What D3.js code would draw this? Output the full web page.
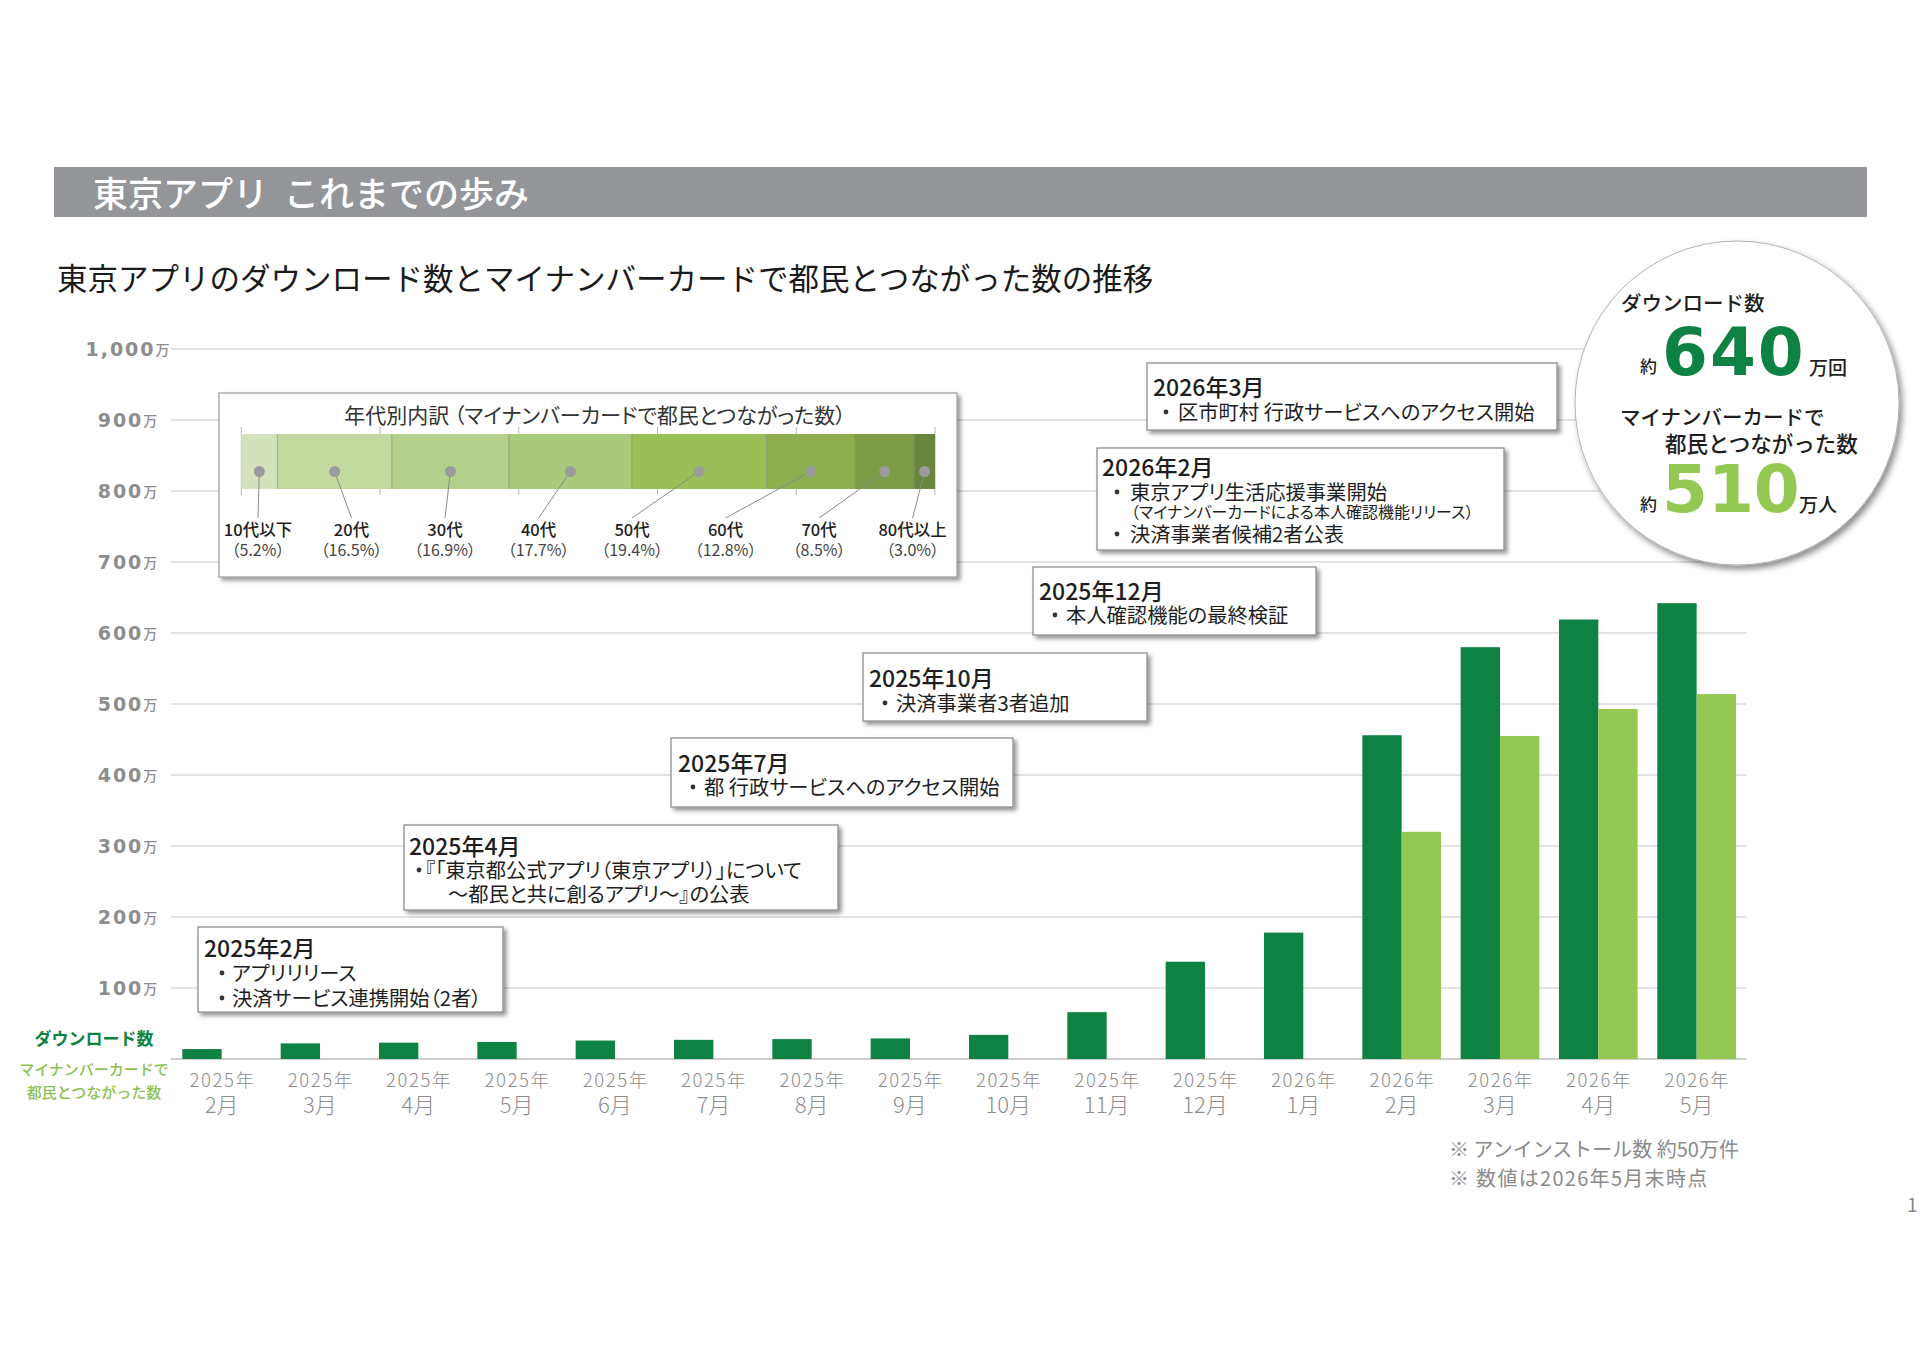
<!DOCTYPE html>
<html><head><meta charset="utf-8">
<script src="https://cdn.jsdelivr.net/npm/d3@7/dist/d3.min.js"></script>
<style>
body{margin:0;background:#fff}
svg{display:block}
text{font-family:"Noto Sans CJK JP","Noto Sans",sans-serif}
.palt{font-feature-settings:"palt" 1}
</style>
</head><body>
<svg id="chart" width="1920" height="1356"></svg>
<script>
// ---------- DATA ----------
const catYears  = ["2025年","2025年","2025年","2025年","2025年","2025年","2025年","2025年","2025年","2025年","2025年","2026年","2026年","2026年","2026年","2026年"];
const catMonths = ["2月","3月","4月","5月","6月","7月","8月","9月","10月","11月","12月","1月","2月","3月","4月","5月"];
const downloads = [14, 22, 23, 24, 26, 27, 28, 29, 34, 66, 137, 178, 456, 580, 619, 642];           // 万
const mynaLinks = [null, null, null, null, null, null, null, null, null, null, null, null, 320, 455, 493, 514]; // 万
const yTickValues = [100, 200, 300, 400, 500, 600, 700, 800, 900, 1000];
const yTickLabels = ["100", "200", "300", "400", "500", "600", "700", "800", "900", "1,000"];
const ageGroups = ["10代以下", "20代", "30代", "40代", "50代", "60代", "70代", "80代以上"];
const agePct    = [5.2, 16.5, 16.9, 17.7, 19.4, 12.8, 8.5, 3.0];
const eventTitles = ["2025年2月", "2025年4月", "2025年7月", "2025年10月", "2025年12月", "2026年2月", "2026年3月"];
const eventLines = [
  [{b:true, t:"アプリリリース"}, {b:true, t:"決済サービス連携開始（2者）"}],
  [{b:true, t:"『「東京都公式アプリ（東京アプリ）」について"}, {b:false, t:"～都民と共に創るアプリ～』の公表"}],
  [{b:true, t:"都 行政サービスへのアクセス開始"}],
  [{b:true, t:"決済事業者3者追加"}],
  [{b:true, t:"本人確認機能の最終検証"}],
  [{b:true, t:"東京アプリ生活応援事業開始"}, {b:false, small:true, t:"（マイナンバーカードによる本人確認機能リリース）"}, {b:true, t:"決済事業者候補2者公表"}],
  [{b:true, t:"区市町村 行政サービスへのアクセス開始"}]
];
const totalDownloads = "640";
const totalLinks = "510";
const footnotes = ["※ アンインストール数 約50万件", "※ 数値は2026年5月末時点"];

// ---------- STYLE / LAYOUT ----------
const C_DARK = "#0e8242", C_LIGHT = "#93c852", C_GRID = "#d9d9d9", C_AXIS = "#8d8d8d";
const ageColors = ["#d3e2ba", "#c3d9a0", "#b5d08a", "#a9c97b", "#9bbf57", "#8eaf4f", "#7e9c47", "#6a863a"];
const categories = catYears.map((y, i) => y + catMonths[i]);

const svg = d3.select("#chart");
const defs = svg.append("defs");
const sh = defs.append("filter").attr("id", "shadow").attr("x", "-10%").attr("y", "-10%").attr("width", "130%").attr("height", "140%");
sh.append("feDropShadow").attr("dx", 3).attr("dy", 3).attr("stdDeviation", 2.2).attr("flood-color", "#000").attr("flood-opacity", 0.42);
const sh2 = defs.append("filter").attr("id", "cshadow").attr("x", "-10%").attr("y", "-10%").attr("width", "130%").attr("height", "130%");
sh2.append("feDropShadow").attr("dx", 3).attr("dy", 4).attr("stdDeviation", 3).attr("flood-color", "#000").attr("flood-opacity", 0.45);

// Header
svg.append("rect").attr("x", 54).attr("y", 167).attr("width", 1813).attr("height", 50).attr("fill", "#949599");
const ht = svg.append("text").attr("y", 191).attr("dominant-baseline", "central")
  .attr("fill", "#fff").attr("font-size", 35).attr("font-weight", 500);
ht.append("tspan").attr("x", 93).text("東京アプリ");
ht.append("tspan").attr("x", 284).text("これまでの歩み");
svg.append("text").attr("x", 57).attr("y", 277).attr("dominant-baseline", "central")
  .attr("fill", "#1a1a1a").attr("font-size", 30.5).attr("font-weight", 400)
  .text("東京アプリのダウンロード数とマイナンバーカードで都民とつながった数の推移");

// Scales
const x = d3.scaleBand().domain(categories).range([172.5, 1745.8]).paddingInner(0.2).paddingOuter(0.1);
const y = d3.scaleLinear().domain([0, 1000]).range([1059, 349]);
const bw = x.bandwidth();

// Gridlines
svg.append("g").selectAll("line").data(yTickValues).join("line")
  .attr("x1", 171).attr("x2", 1746).attr("y1", d => y(d)).attr("y2", d => y(d))
  .attr("stroke", C_GRID).attr("stroke-width", 1.5);
svg.append("line").attr("x1", 171).attr("x2", 1746).attr("y1", y(0)).attr("y2", y(0))
  .attr("stroke", "#cfcfcf").attr("stroke-width", 2);

// Y labels
const yl = svg.append("g").selectAll("text").data(yTickValues).join("text")
  .attr("x", 127.5).attr("y", d => y(d)).attr("text-anchor", "middle").attr("dominant-baseline", "central")
  .attr("fill", C_AXIS);
yl.append("tspan").text((d, i) => yTickLabels[i])
  .attr("style", "font-family:'DejaVu Sans';font-weight:bold;font-size:19px;letter-spacing:2px");
yl.append("tspan").text("万").attr("style", "font-size:14px;font-weight:500");

// Bars
svg.append("g").selectAll("rect").data(categories).join("rect")
  .attr("x", d => x(d)).attr("width", bw / 2)
  .attr("y", (d, i) => y(downloads[i])).attr("height", (d, i) => y(0) - y(downloads[i]))
  .attr("fill", C_DARK);
svg.append("g").selectAll("rect").data(categories.filter((d, i) => mynaLinks[i] != null)).join("rect")
  .attr("x", d => x(d) + bw / 2).attr("width", bw / 2)
  .attr("y", d => y(mynaLinks[categories.indexOf(d)]))
  .attr("height", d => y(0) - y(mynaLinks[categories.indexOf(d)]))
  .attr("fill", C_LIGHT);

// X labels
const xl = svg.append("g").selectAll("g").data(categories).join("g");
xl.append("text").attr("x", d => x(d) + bw / 2 + 0.8).attr("y", 1079).attr("text-anchor", "middle")
  .attr("dominant-baseline", "central").attr("fill", C_AXIS).attr("font-size", 18.5).attr("font-weight", 300)
  .attr("letter-spacing", 1.6).text((d, i) => catYears[i]);
xl.append("text").attr("x", d => x(d) + bw / 2).attr("y", 1103).attr("text-anchor", "middle")
  .attr("dominant-baseline", "central").attr("fill", C_AXIS).attr("font-size", 22).attr("font-weight", 300)
  .text((d, i) => catMonths[i]);

// Legend (left)
svg.append("text").attr("x", 94).attr("y", 1037).attr("text-anchor", "middle").attr("dominant-baseline", "central")
  .attr("fill", C_DARK).attr("font-size", 17).attr("font-weight", 700).text("ダウンロード数");
svg.append("text").attr("x", 94).attr("y", 1068).attr("text-anchor", "middle").attr("dominant-baseline", "central")
  .attr("fill", "#8cc152").attr("font-size", 15).attr("font-weight", 500).text("マイナンバーカードで");
svg.append("text").attr("x", 94).attr("y", 1091).attr("text-anchor", "middle").attr("dominant-baseline", "central")
  .attr("fill", "#8cc152").attr("font-size", 15).attr("font-weight", 500).text("都民とつながった数");

// Age breakdown box
const ab = svg.append("g");
ab.append("rect").attr("x", 219).attr("y", 393).attr("width", 738).attr("height", 184)
  .attr("fill", "#fff").attr("stroke", "#9a9a9a").attr("stroke-width", 1.2).attr("filter", "url(#shadow)");
ab.append("text").attr("x", 595).attr("y", 414).attr("text-anchor", "middle").attr("dominant-baseline", "central")
  .attr("fill", "#333").attr("font-size", 21).attr("class", "palt")
  .text("年代別内訳 （マイナンバーカードで都民とつながった数）");
const xa = d3.scaleLinear().domain([0, 100]).range([241.3, 935]);
const cum = agePct.reduce((a, v) => { a.push(a[a.length - 1] + v); return a; }, [0]);
const segY0 = 434, segY1 = 489;
ab.append("g").selectAll("line").data([0, 20, 40, 60, 80, 100]).join("line")
  .attr("x1", d => xa(d)).attr("x2", d => xa(d)).attr("y1", segY0 - 7).attr("y2", segY1 + 6)
  .attr("stroke", "#b5b5b5").attr("stroke-width", 1);
ab.append("g").selectAll("rect").data(agePct).join("rect")
  .attr("x", (d, i) => xa(cum[i])).attr("width", d => xa(d) - xa(0))
  .attr("y", segY0).attr("height", segY1 - segY0).attr("fill", (d, i) => ageColors[i]);
ab.append("g").selectAll("line").data(cum.slice(1, -1)).join("line")
  .attr("x1", d => xa(d)).attr("x2", d => xa(d)).attr("y1", segY0).attr("y2", segY1)
  .attr("stroke", "#6f7a5f").attr("stroke-opacity", 0.55).attr("stroke-width", 1);
const lx = d3.scalePoint().domain(ageGroups).range([258, 912.6]);
const dotY = 471.5, lblTop = 518;
ab.append("g").selectAll("line").data(ageGroups).join("line")
  .attr("x1", (d, i) => xa(cum[i] + agePct[i] / 2)).attr("y1", dotY)
  .attr("x2", d => lx(d)).attr("y2", lblTop)
  .attr("stroke", "#8a8a8a").attr("stroke-width", 1);
ab.append("g").selectAll("circle").data(ageGroups).join("circle")
  .attr("cx", (d, i) => xa(cum[i] + agePct[i] / 2)).attr("cy", dotY).attr("r", 5.5).attr("fill", "#9b9b9e");
ab.append("g").selectAll("text").data(ageGroups).join("text")
  .attr("x", d => lx(d)).attr("y", 529).attr("text-anchor", "middle").attr("dominant-baseline", "central")
  .attr("fill", "#1e1e1e").attr("font-size", 16.5).attr("font-weight", 500).text(d => d);
ab.append("g").selectAll("text").data(agePct).join("text")
  .attr("x", (d, i) => lx(ageGroups[i])).attr("y", 549).attr("text-anchor", "middle").attr("dominant-baseline", "central")
  .attr("fill", "#444").attr("font-size", 16).attr("class", "palt").text(d => "（" + d.toFixed(1) + "%）");

// Event boxes (layout)
const evLayout = [
  {x: 198, y: 927, w: 305, h: 85, ty: 947, ly: [972, 997], tx: 204, bx: 222, lx: 232, cx: 232},
  {x: 404, y: 825, w: 434, h: 85, ty: 845, ly: [869, 893], tx: 409, bx: 419, lx: 425, cx: 448},
  {x: 671, y: 738, w: 342, h: 69, ty: 762, ly: [786], tx: 678, bx: 693, lx: 704, cx: 704},
  {x: 863, y: 653, w: 284, h: 68, ty: 677, ly: [702], tx: 869, bx: 885, lx: 896, cx: 896},
  {x: 1033, y: 567, w: 283, h: 68, ty: 590, ly: [614], tx: 1039, bx: 1055, lx: 1066, cx: 1066},
  {x: 1097, y: 448, w: 407, h: 102, ty: 466, ly: [491, 511, 533], tx: 1102, bx: 1117, lx: 1130, cx: 1131},
  {x: 1147, y: 363, w: 410, h: 67, ty: 386, ly: [411], tx: 1153, bx: 1166, lx: 1178, cx: 1178}
];
const evG = svg.append("g").selectAll("g").data(eventTitles).join("g");
evG.append("rect").attr("x", (d, i) => evLayout[i].x).attr("y", (d, i) => evLayout[i].y)
  .attr("width", (d, i) => evLayout[i].w).attr("height", (d, i) => evLayout[i].h)
  .attr("fill", "#fff").attr("stroke", "#8f8f8f").attr("stroke-width", 1.3).attr("filter", "url(#shadow)");
evG.append("text").attr("x", (d, i) => evLayout[i].tx).attr("y", (d, i) => evLayout[i].ty)
  .attr("dominant-baseline", "central").attr("fill", "#1e1e1e").attr("font-size", 23).attr("font-weight", 500)
  .text(d => d);
evG.each(function(d, i) {
  const g = d3.select(this), L = evLayout[i];
  eventLines[i].forEach((ln, j) => {
    if (ln.b) {
      g.append("circle").attr("cx", L.bx).attr("cy", L.ly[j] + 1).attr("r", 2.4).attr("fill", "#333");
    }
    g.append("text").attr("x", ln.b ? L.lx : L.cx).attr("y", L.ly[j]).attr("dominant-baseline", "central")
      .attr("class", "palt").attr("fill", "#1e1e1e").attr("font-size", ln.small ? 16 : 20.3)
      .text(ln.t);
  });
});

// Summary circle
const cg = svg.append("g");
cg.append("circle").attr("cx", 1737).attr("cy", 403).attr("r", 162).attr("fill", "#fff")
  .attr("stroke", "#b4b4b4").attr("stroke-width", 1).attr("filter", "url(#cshadow)");
cg.append("text").attr("x", 1621).attr("y", 302).attr("dominant-baseline", "central").attr("fill", "#1e1e1e")
  .attr("font-size", 20.5).attr("font-weight", 500).text("ダウンロード数");
cg.append("text").attr("x", 1640).attr("y", 365).attr("dominant-baseline", "central").attr("fill", "#1e1e1e")
  .attr("font-size", 17).attr("font-weight", 500).text("約");
cg.append("text").attr("x", 1662).attr("y", 375).attr("fill", C_DARK)
  .attr("style", "font-family:'DejaVu Sans';font-weight:bold;font-size:66px;letter-spacing:2px").text(totalDownloads);
cg.append("text").attr("x", 1809).attr("y", 375).attr("fill", "#1e1e1e")
  .attr("font-size", 19).attr("font-weight", 500).text("万回");
cg.append("text").attr("x", 1620).attr("y", 416).attr("dominant-baseline", "central").attr("fill", "#1e1e1e")
  .attr("font-size", 20.5).attr("font-weight", 500).text("マイナンバーカードで");
cg.append("text").attr("x", 1665).attr("y", 442).attr("dominant-baseline", "central").attr("fill", "#1e1e1e")
  .attr("font-size", 21.5).attr("font-weight", 500).text("都民とつながった数");
cg.append("text").attr("x", 1640).attr("y", 503).attr("dominant-baseline", "central").attr("fill", "#1e1e1e")
  .attr("font-size", 17).attr("font-weight", 500).text("約");
cg.append("text").attr("x", 1662).attr("y", 512).attr("fill", C_LIGHT)
  .attr("style", "font-family:'DejaVu Sans';font-weight:bold;font-size:66px;letter-spacing:0px").text(totalLinks);
cg.append("text").attr("x", 1799).attr("y", 512).attr("fill", "#1e1e1e")
  .attr("font-size", 19).attr("font-weight", 500).text("万人");

// Footnotes
svg.append("g").selectAll("text").data(footnotes).join("text")
  .attr("x", 1449).attr("y", (d, i) => 1148 + i * 29).attr("dominant-baseline", "central")
  .attr("fill", "#8a8a8a").attr("font-size", 20).attr("letter-spacing", (d, i) => i === 1 ? 1.3 : 0).text(d => d);
svg.append("text").attr("x", 1907).attr("y", 1203).attr("dominant-baseline", "central")
  .attr("fill", "#8a8a8a").attr("font-size", 19).text("1");
</script>
</body></html>
